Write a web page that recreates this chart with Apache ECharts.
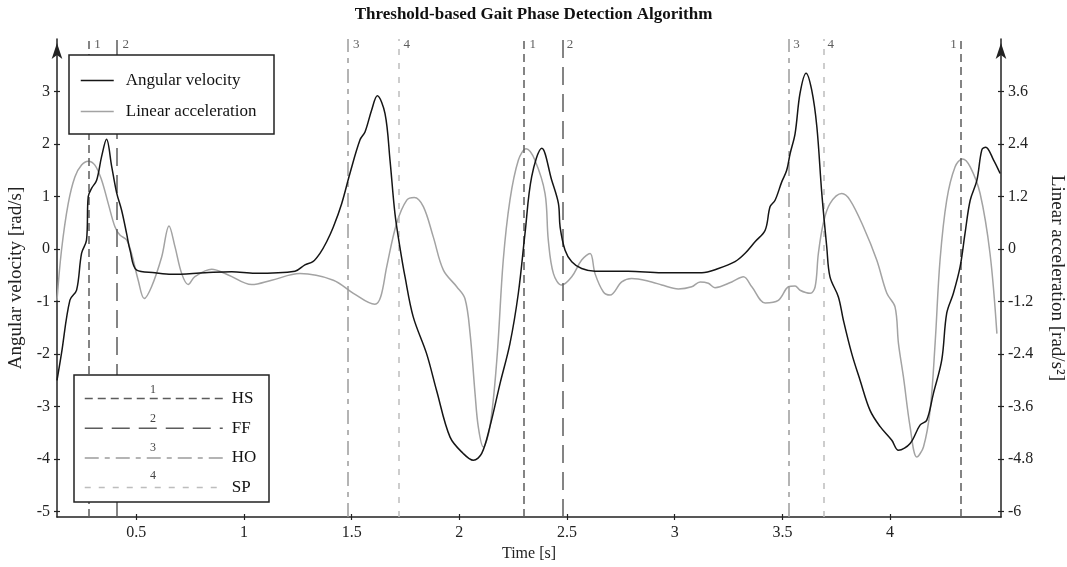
<!DOCTYPE html>
<html><head><meta charset="utf-8">
<script src="https://cdn.jsdelivr.net/npm/echarts@6/dist/echarts.min.js"></script>
<style>html,body{margin:0;padding:0;background:#fff}#c{width:1067px;height:567px}</style>
</head><body><div id="c"></div>
<script>
// ---- data ----
const timeAV = [0.132,0.153,0.192,0.223,0.246,0.269,0.277,0.293,0.316,0.339,0.362,0.386,0.409,0.432,0.455,0.471,0.502,0.587,0.664,0.819,
  0.943,1.051,1.237,1.283,1.320,1.353,1.384,1.415,1.454,1.492,1.539,1.562,1.593,1.619,1.655,1.678,1.701,1.724,1.748,1.786,
  1.848,1.895,1.957,2.018,2.065,2.104,2.142,2.189,2.235,2.274,2.305,2.336,2.383,2.429,2.460,2.468,2.491,2.522,2.568,2.630,
  2.785,2.940,3.126,3.203,3.280,3.327,3.373,3.420,3.443,3.466,3.497,3.520,3.536,3.559,3.582,3.610,3.636,3.660,3.683,3.706,
  3.721,3.760,3.783,3.822,3.861,3.907,3.954,4.008,4.039,4.093,4.139,4.170,4.201,4.240,4.263,4.294,4.325,4.348,4.372,4.403,
  4.426,4.444,4.480,4.511];
const angularVelocity = [-2.50,-1.98,-0.97,-0.78,-0.08,0.17,1.00,1.16,1.31,1.76,2.09,1.57,1.07,0.74,0.30,-0.02,-0.40,-0.45,-0.48,-0.45,
  -0.43,-0.46,-0.42,-0.30,-0.24,-0.08,0.14,0.42,0.87,1.44,2.08,2.23,2.65,2.92,2.58,1.70,0.68,0.04,-0.53,-1.29,
  -1.99,-2.70,-3.58,-3.89,-4.02,-3.89,-3.38,-2.56,-1.80,-0.84,0.30,1.38,1.92,1.31,0.87,0.42,-0.02,-0.24,-0.37,-0.42,
  -0.42,-0.45,-0.45,-0.37,-0.24,-0.08,0.14,0.36,0.81,0.93,1.28,1.50,1.82,2.20,2.97,3.35,3.03,2.33,1.06,0.04,
  -0.53,-0.91,-1.35,-1.99,-2.50,-3.07,-3.38,-3.64,-3.83,-3.70,-3.35,-3.26,-2.75,-2.11,-1.22,-0.84,-0.34,0.30,0.93,1.31,
  1.89,1.94,1.70,1.44];
const timeLA = [0.132,0.153,0.184,0.215,0.246,0.277,0.308,0.339,0.370,0.401,0.424,0.455,0.478,0.509,0.537,0.571,0.618,0.652,0.680,0.711,
  0.741,0.772,0.850,0.927,1.036,1.129,1.260,1.415,1.508,1.608,1.635,1.663,1.709,1.756,1.791,1.833,1.879,1.926,1.988,2.026,
  2.050,2.073,2.088,2.111,2.142,2.174,2.204,2.235,2.274,2.310,2.351,2.398,2.413,2.437,2.475,2.522,2.568,2.607,2.630,2.669,
  2.700,2.754,2.800,2.893,2.940,3.017,3.079,3.118,3.156,3.187,3.265,3.319,3.358,3.420,3.481,3.528,3.559,3.582,3.629,3.652,
  3.667,3.690,3.721,3.776,3.814,3.876,3.938,3.985,4.023,4.039,4.062,4.093,4.124,4.155,4.186,4.209,4.232,4.263,4.302,4.336,
  4.372,4.418,4.464,4.496];
const linearAcceleration = [-1.17,-0.02,1.04,1.65,1.92,2.01,1.92,1.58,1.04,0.51,0.32,0.21,-0.10,-0.71,-1.13,-0.86,-0.18,0.53,0.05,-0.56,
  -0.81,-0.63,-0.46,-0.59,-0.81,-0.71,-0.56,-0.71,-1.01,-1.26,-1.09,-0.40,0.59,1.12,1.18,0.97,0.28,-0.48,-0.86,-1.13,
  -1.93,-3.30,-4.06,-4.52,-4.06,-2.54,-0.25,1.12,2.03,2.29,2.03,1.27,0.21,-0.56,-0.82,-0.63,-0.25,-0.10,-0.56,-0.98,
  -1.05,-0.75,-0.67,-0.75,-0.82,-0.91,-0.86,-0.75,-0.78,-0.88,-0.75,-0.63,-0.86,-1.23,-1.17,-0.86,-0.84,-0.94,-1.01,-0.86,
  -0.10,0.59,1.04,1.27,1.12,0.51,-0.25,-1.01,-1.32,-2.16,-2.92,-4.06,-4.75,-4.52,-3.68,-2.16,-0.25,1.12,1.88,2.06,
  1.88,1.27,-0.10,-1.93];
const eventTypes = ['HS','FF','HO','SP'];
const eventNumbers = ['1','2','3','4'];
const eventTimes = [[0.282,2.303,4.333],[0.413,2.475],[1.483,3.527],[1.718,3.686]];
const xTicks = [0.5,1,1.5,2,2.5,3,3.5,4];
const leftTicks = [-5,-4,-3,-2,-1,0,1,2,3];
const rightTicks = [-6,-4.8,-3.6,-2.4,-1.2,0,1.2,2.4,3.6];

// ---- chart ----
const FONT = 'Liberation Serif';
const AX = '#222';
const X_RANGE = {min:0.132, max:4.515};
const L_RANGE = {min:-5.1, max:4.0};
const R_RANGE = {min:-6.12, max:4.8};
const eventStyles = [
  {color:'#5c5c5c', type:[8,5]},
  {color:'#5c5c5c', type:[18,9]},
  {color:'#9c9c9c', type:[14,6,5,6]},
  {color:'#bdbdbd', type:[6,8]}
];
const chart = echarts.init(document.getElementById('c'));
const series = [
  {name:'Angular velocity', type:'line', yAxisIndex:0, data: timeAV.map((t,i)=>[t, angularVelocity[i]]),
   symbol:'none', showSymbol:false, smooth:0.35, lineStyle:{color:'#151515', width:1.5}, itemStyle:{color:'#151515'}, z:5, silent:true},
  {name:'Linear acceleration', type:'line', yAxisIndex:1, data: timeLA.map((t,i)=>[t, linearAcceleration[i]]),
   symbol:'none', showSymbol:false, smooth:0.35, lineStyle:{color:'#a3a3a3', width:1.5}, itemStyle:{color:'#a3a3a3'}, z:4, silent:true}
];
const labelData = [];
eventTypes.forEach((name,k)=>{
  const st = eventStyles[k];
  series.push({name, type:'line', yAxisIndex:0, data:[], symbol:'none', z:3, silent:true,
    lineStyle:{color:st.color, width:1.5, type:st.type}, itemStyle:{color:st.color},
    markLine:{silent:true, symbol:'none', label:{show:false}, animation:false,
      lineStyle:{color:st.color, width:1.5, type:st.type},
      data: eventTimes[k].map(t=>({xAxis:t}))}});
  eventTimes[k].forEach(t=>{
    labelData.push({value:[t, 3.9], num:eventNumbers[k], label:{position: t > 4.2 ? 'left' : 'right'}});
  });
});
series.push({name:'eventLabels', type:'scatter', yAxisIndex:0, symbolSize:0, silent:true, z:6, data:labelData,
  label:{show:true, distance:5, formatter:p=>p.data.num, fontFamily:FONT, fontSize:13, color:'#333'}});

const graphic = [
  {type:'rect', shape:{x:69, y:55, width:205, height:79}, style:{fill:'#fff', stroke:AX, lineWidth:1.5}, z:8},
  {type:'rect', shape:{x:74, y:375, width:195, height:127}, style:{fill:'#fff', stroke:AX, lineWidth:1.5}, z:8}
];
eventNumbers.forEach((n,k)=>{
  graphic.push({type:'text', x:153, y:390 + k*28.7, z:12,
    style:{text:n, font:'12px "Liberation Serif"', fill:'#444', align:'center', verticalAlign:'middle'}});
});

// helper: hidden twin axis that only draws inward ticks (to make ticks cross the axis line)
function innerTicks(base, ticks){
  return Object.assign({type:'value', axisLine:{show:false, onZero:false},
    axisTick:{show:true, inside:true, customValues:ticks, length:3, lineStyle:{color:AX, width:1.2}},
    axisLabel:{show:false}, splitLine:{show:false}}, base);
}

const option = {
  animation:false,
  backgroundColor:'#fff',
  title:{text:'Threshold-based Gait Phase Detection Algorithm', left:'center', top:1,
    textStyle:{fontFamily:FONT, fontSize:17, fontWeight:'bold', color:'#111'}},
  grid:{left:57, right:66, top:39, bottom:50, containLabel:false, outerBoundsMode:'none'},
  legend:[
    {data:['Angular velocity','Linear acceleration'], orient:'vertical', left:80, top:72, padding:0,
     itemWidth:33, itemHeight:16, itemGap:14, selectedMode:false, z:10, lineStyle:{width:1.5}, itemStyle:{opacity:0},
     textStyle:{fontFamily:FONT, fontSize:17, color:'#111', padding:[0,0,0,7], lineHeight:16}},
    {data:eventTypes, orient:'vertical', left:84, top:390, padding:0,
     itemWidth:138, itemHeight:16, itemGap:12.7, selectedMode:false, z:10, lineStyle:{width:1.5}, itemStyle:{opacity:0},
     textStyle:{fontFamily:FONT, fontSize:17, color:'#111', padding:[0,0,0,4], lineHeight:16}}
  ],
  xAxis:[
    {type:'value', min:X_RANGE.min, max:X_RANGE.max, position:'bottom',
    name:'Time [s]', nameLocation:'middle', nameGap:27, nameTextStyle:{fontFamily:FONT, fontSize:16, color:AX},
    axisLine:{onZero:false, lineStyle:{color:AX, width:1.5}},
    axisTick:{customValues:xTicks, length:3, lineStyle:{color:AX, width:1.2}},
    axisLabel:{customValues:xTicks, fontFamily:FONT, fontSize:16, color:AX, margin:8, formatter:v=>String(v)},
    splitLine:{show:false}},
    innerTicks({min:X_RANGE.min, max:X_RANGE.max, position:'bottom'}, xTicks)
  ],
  yAxis:[
    {type:'value', min:L_RANGE.min, max:L_RANGE.max, position:'left',
     name:'Angular velocity [rad/s]', nameLocation:'middle', nameGap:30,
     nameTextStyle:{fontFamily:FONT, fontSize:19, color:AX},
     axisLine:{show:true, onZero:false, symbol:['none','arrow'], symbolSize:[8,16], symbolOffset:[0,-4], lineStyle:{color:AX, width:1.5}},
     axisTick:{show:true, customValues:leftTicks, length:3, lineStyle:{color:AX, width:1.2}},
     axisLabel:{customValues:leftTicks, fontFamily:FONT, fontSize:16, color:AX, margin:7, formatter:v=>String(v)},
     splitLine:{show:false}},
    {type:'value', min:R_RANGE.min, max:R_RANGE.max, position:'right',
     name:'Linear acceleration [rad/s²]', nameLocation:'middle', nameGap:46, nameRotate:-90,
     nameTextStyle:{fontFamily:FONT, fontSize:19, color:AX},
     axisLine:{show:true, onZero:false, symbol:['none','arrow'], symbolSize:[8,16], symbolOffset:[0,-4], lineStyle:{color:AX, width:1.5}},
     axisTick:{show:true, customValues:rightTicks, length:3, lineStyle:{color:AX, width:1.2}},
     axisLabel:{customValues:rightTicks, fontFamily:FONT, fontSize:16, color:AX, margin:7, formatter:v=>String(+(+v).toFixed(1))},
     splitLine:{show:false}},
    innerTicks({min:L_RANGE.min, max:L_RANGE.max, position:'left'}, leftTicks),
    innerTicks({min:R_RANGE.min, max:R_RANGE.max, position:'right'}, rightTicks)
  ],
  graphic,
  series
};
chart.setOption(option);
</script>
</body></html>
